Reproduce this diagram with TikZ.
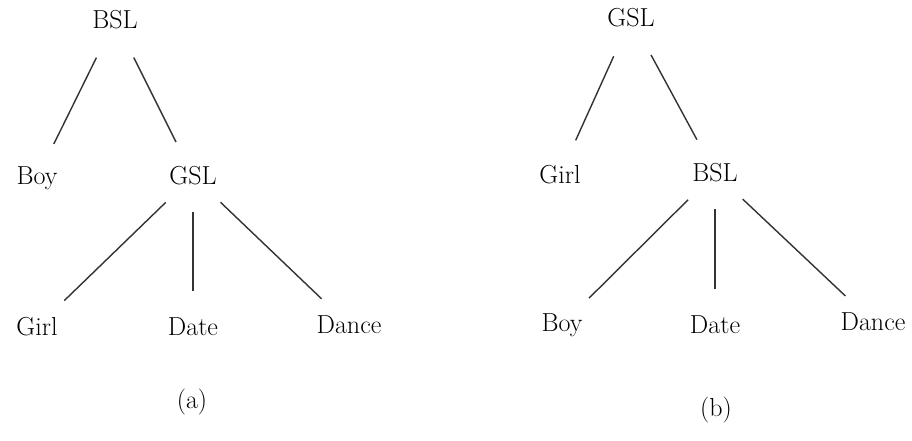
\documentclass[tikz,border=0pt]{standalone}
\usepackage{amsmath}
\usepackage{tikz}
\usetikzlibrary{positioning}

\begin{document}
\begin{tikzpicture}[x=0.025cm,y=-0.025cm,
	lbl/.style={font=\fontsize{18.5}{22}\selectfont,inner sep=0pt},
	branch/.style={draw=black!80,line width=1pt,shorten <=0.95cm,shorten >=0.95cm},
	topbranch/.style={branch,shorten <=1.05cm}]
	\useasboundingbox (0,0) rectangle (912,440);
	% tree (a)
	\node[lbl] (bslA) at (115,20) {BSL};
	\node[lbl] (boyA) at (37,178) {Boy};
	\node[lbl] (gslA) at (193,176) {GSL};
	\node[lbl] (girlA) at (37,327) {Girl};
	\node[lbl] (dateA) at (193,327) {Date};
	\node[lbl] (danceA) at (349,325) {Dance};
	\node[lbl] (capA) at (192,402) {(a)};
	\draw[topbranch] (bslA.center) -- (boyA.center);
	\draw[topbranch] (bslA.center) -- (gslA.center);
	\draw[branch] (gslA.center) -- (girlA.center);
	\draw[branch,shorten <=0.9cm,shorten >=0.9cm] (gslA.center) -- (dateA.center);
	\draw[branch] (gslA.center) -- (danceA.center);
	% tree (b)
	\node[lbl] (gslB) at (631,18) {GSL};
	\node[lbl] (girlB) at (560,175) {Girl};
	\node[lbl] (bslB) at (715,173) {BSL};
	\node[lbl] (boyB) at (562,325) {Boy};
	\node[lbl] (dateB) at (715,325) {Date};
	\node[lbl] (danceB) at (873,322) {Dance};
	\node[lbl] (capB) at (716,410) {(b)};
	\draw[topbranch] (gslB.center) -- (girlB.center);
	\draw[topbranch] (gslB.center) -- (bslB.center);
	\draw[branch] (bslB.center) -- (boyB.center);
	\draw[branch,shorten <=0.9cm,shorten >=0.9cm] (bslB.center) -- (dateB.center);
	\draw[branch] (bslB.center) -- (danceB.center);
\end{tikzpicture}
\end{document}
